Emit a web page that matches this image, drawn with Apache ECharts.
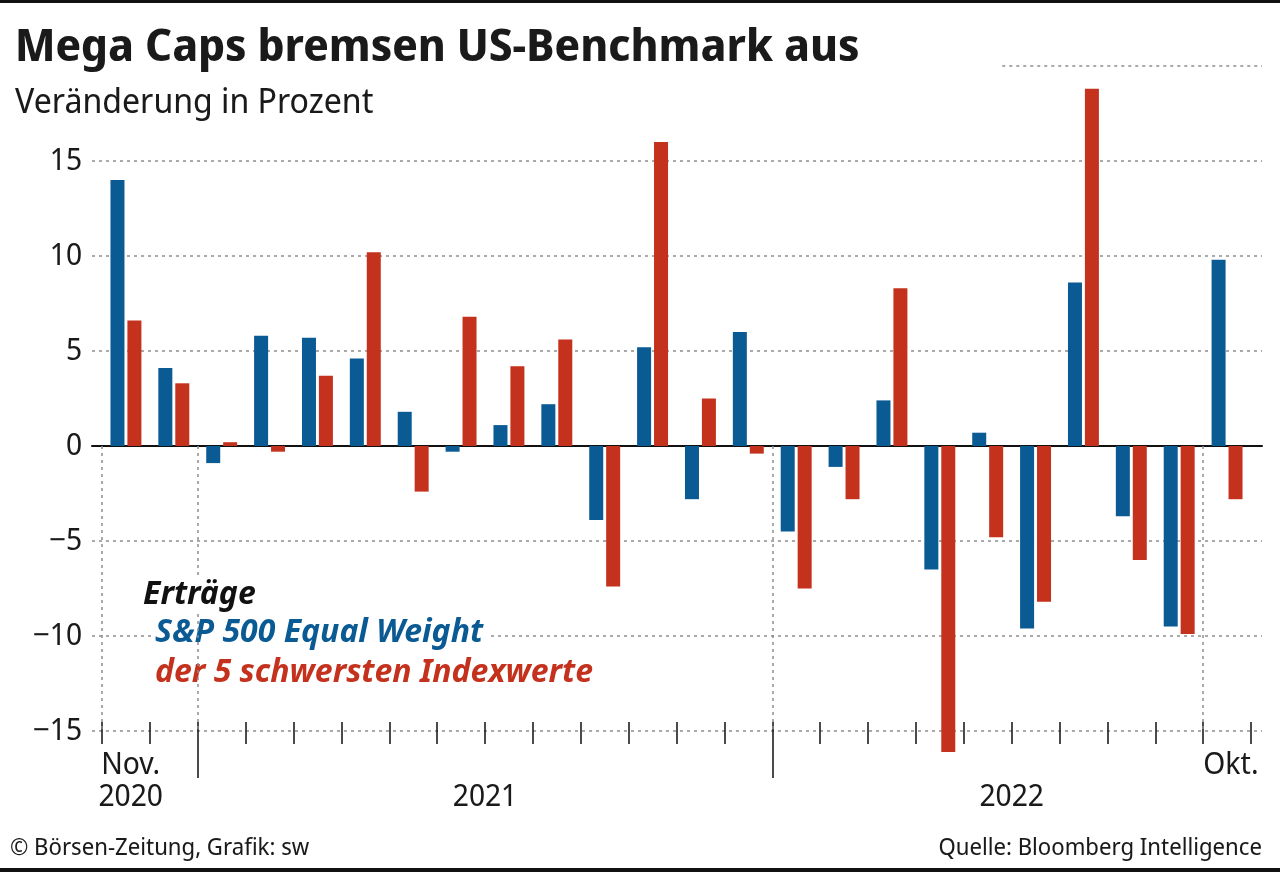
<!DOCTYPE html>
<html><head><meta charset="utf-8">
<script src="https://cdn.jsdelivr.net/npm/echarts@6/dist/echarts.min.js"></script>
<style>html,body{margin:0;padding:0;background:#fff}#chart{width:1280px;height:872px}</style>
</head><body><div id="chart"></div>
<script>
// ---- data ----
var months = ['Nov. 2020','Dez. 2020','Jan. 2021','Feb. 2021','März 2021','Apr. 2021','Mai 2021','Juni 2021','Juli 2021','Aug. 2021','Sep. 2021','Okt. 2021','Nov. 2021','Dez. 2021','Jan. 2022','Feb. 2022','März 2022','Apr. 2022','Mai 2022','Juni 2022','Juli 2022','Aug. 2022','Sep. 2022','Okt. 2022'];
var equalWeight = [14.0, 4.1, -0.9, 5.8, 5.7, 4.6, 1.8, -0.3, 1.1, 2.2, -3.9, 5.2, -2.8, 6.0, -4.5, -1.1, 2.4, -6.5, 0.7, -9.6, 8.6, -3.7, -9.5, 9.8];
var top5 = [6.6, 3.3, 0.2, -0.3, 3.7, 10.2, -2.4, 6.8, 4.2, 5.6, -7.4, 16.0, 2.5, -0.4, -7.5, -2.8, 8.3, -16.1, -4.8, -8.2, 18.8, -6.0, -9.9, -2.8];
var seriesNames = ['S&P 500 Equal Weight', 'der 5 schwersten Indexwerte'];
var yTicks = [-15, -10, -5, 0, 5, 10, 15, 20];
var periodLabels = {0.6: 'Nov.\n2020', 8: '\n2021', 19: '\n2022', 23.58: 'Okt.'};
var yearBoundaries = [2, 14];
var dottedMarkers = [0, 2, 14, 23];

var BLUE = '#0a5a94', RED = '#c4311d';
var FONT = '"Noto Sans Display", "Noto Sans", sans-serif';
var FONT2 = '"Noto Sans", sans-serif';
var GRID_LINE = {color: '#8e8e8e', width: 1.5, type: [3, 4]};

var chart = echarts.init(document.getElementById('chart'), null, {renderer: 'canvas'});
var yMin = yTicks[0], yMax = yTicks[yTicks.length - 1];
var n = months.length;

var option = {
  backgroundColor: '#fff',
  animation: false,
  textStyle: {fontFamily: FONT},
  title: [
    {text: 'Mega Caps bremsen US-Benchmark aus', left: 15, top: 26, padding: 0,
     textStyle: {fontFamily: FONT, fontSize: 45, fontWeight: 'bold', color: '#1a1a1a'}},
    {text: 'Veränderung in Prozent', left: 15, top: 86, padding: 0,
     textStyle: {fontFamily: FONT, fontSize: 34, fontWeight: 'normal', color: '#1a1a1a'}},
    {text: 'Erträge', left: 139, top: 576, padding: [0, 4], backgroundColor: '#fff',
     textStyle: {fontFamily: FONT2, fontSize: 32, fontWeight: 'bold', fontStyle: 'italic', color: '#111', lineHeight: 38}},
    {text: '© Börsen-Zeitung, Grafik: sw', left: 10, top: 836, padding: 0,
     textStyle: {fontFamily: FONT, fontSize: 23.5, fontWeight: 'normal', color: '#1a1a1a'}},
    {text: 'Quelle: Bloomberg Intelligence', right: 18, top: 836, padding: 0,
     textStyle: {fontFamily: FONT, fontSize: 23.5, fontWeight: 'normal', color: '#1a1a1a'}}
  ],
  legend: {
    orient: 'vertical', left: 146, top: 613, padding: 0,
    icon: 'none', itemWidth: 0, itemHeight: 14, itemGap: 0, selectedMode: false,
    textStyle: {fontFamily: FONT2, fontSize: 32, fontWeight: 'bold', fontStyle: 'italic', lineHeight: 40,
      backgroundColor: '#fff', padding: [0, 4]},
    data: [
      {name: seriesNames[0], textStyle: {color: BLUE}},
      {name: seriesNames[1], textStyle: {color: RED}}
    ]
  },
  grid: [
    {left: 92, right: 18, top: 66, bottom: 141},
    {left: 102, right: 29, top: 66, bottom: 141}
  ],
  xAxis: [
    // 0: zero line across the full gridline width
    {gridIndex: 0, type: 'value', min: 0, max: 1, axisLine: {show: true, onZero: true, lineStyle: {color: '#111', width: 2}},
     axisTick: {show: false}, axisLabel: {show: false}, splitLine: {show: false}},
    // 1: months (bars)
    {gridIndex: 1, type: 'category', data: months, show: false, boundaryGap: true},
    // 2: small ticks above the bottom line
    {gridIndex: 1, type: 'value', min: 0, max: n, interval: 1, position: 'bottom',
     axisLine: {show: false, onZero: false}, axisLabel: {show: false}, splitLine: {show: false},
     axisTick: {show: true, inside: true, length: 9, lineStyle: {color: '#111', width: 1.5}}},
    // 3: small ticks below the bottom line
    {gridIndex: 1, type: 'value', min: 0, max: n, interval: 1, position: 'bottom',
     axisLine: {show: false, onZero: false}, axisLabel: {show: false}, splitLine: {show: false},
     axisTick: {show: true, inside: false, length: 13, lineStyle: {color: '#111', width: 1.5}}},
    // 4: year boundary ticks and period labels
    {gridIndex: 1, type: 'value', min: 0, max: n, position: 'bottom',
     axisLine: {show: false, onZero: false}, splitLine: {show: false},
     axisTick: {show: true, inside: false, length: 47, customValues: yearBoundaries, lineStyle: {color: '#111', width: 1.5}},
     axisLabel: {show: true, customValues: Object.keys(periodLabels).map(Number), margin: 18,
       formatter: function (v) { return periodLabels[v] || ''; },
       fontFamily: FONT, fontSize: 30, color: '#1a1a1a', lineHeight: 32, align: 'center'}}
  ],
  yAxis: [
    {gridIndex: 0, type: 'value', min: yMin, max: yMax, interval: 5,
     axisLine: {show: false}, axisTick: {show: false},
     axisLabel: {showMaxLabel: false, margin: 10, fontFamily: FONT, fontSize: 30, color: '#1a1a1a',
       formatter: function (v) { return v < 0 ? '\u2212' + Math.abs(v) : String(v); }},
     splitLine: {show: true, showMaxLine: false, lineStyle: GRID_LINE}},
    {gridIndex: 1, type: 'value', min: yMin, max: yMax, interval: 5, show: false, splitLine: {show: false}}
  ],
  graphic: [
    {type: 'rect', left: 0, top: 0, shape: {width: 1280, height: 3}, style: {fill: '#111'}, silent: true},
    {type: 'rect', left: 0, top: 868, shape: {width: 1280, height: 4}, style: {fill: '#111'}, silent: true}
  ],
  series: [
    {name: seriesNames[0], type: 'bar', xAxisIndex: 1, yAxisIndex: 1, data: equalWeight,
     barWidth: 14, barGap: '21%', clip: false, itemStyle: {color: BLUE}, z: 3},
    {name: seriesNames[1], type: 'bar', xAxisIndex: 1, yAxisIndex: 1, data: top5,
     barWidth: 14, barGap: '21%', clip: false, itemStyle: {color: RED}, z: 3},
    // dotted period separators below zero
    {type: 'line', xAxisIndex: 2, yAxisIndex: 1, data: [], silent: true, z: 1,
     markLine: {silent: true, symbol: 'none', label: {show: false}, animation: false,
       lineStyle: {color: '#8e8e8e', width: 1.5, type: [3, 4]},
       data: dottedMarkers.map(function (x) { return [{coord: [x, 0]}, {coord: [x, yMin]}]; })}},
    // partial top gridline at 20
    {type: 'line', xAxisIndex: 0, yAxisIndex: 0, data: [], silent: true, z: 1,
     markLine: {silent: true, symbol: 'none', label: {show: false}, animation: false,
       lineStyle: {color: '#8e8e8e', width: 1.5, type: [3, 4]},
       data: [[{coord: [0.778, yMax]}, {coord: [1, yMax]}]]}}
  ]
};
chart.setOption(option);
</script></body></html>
